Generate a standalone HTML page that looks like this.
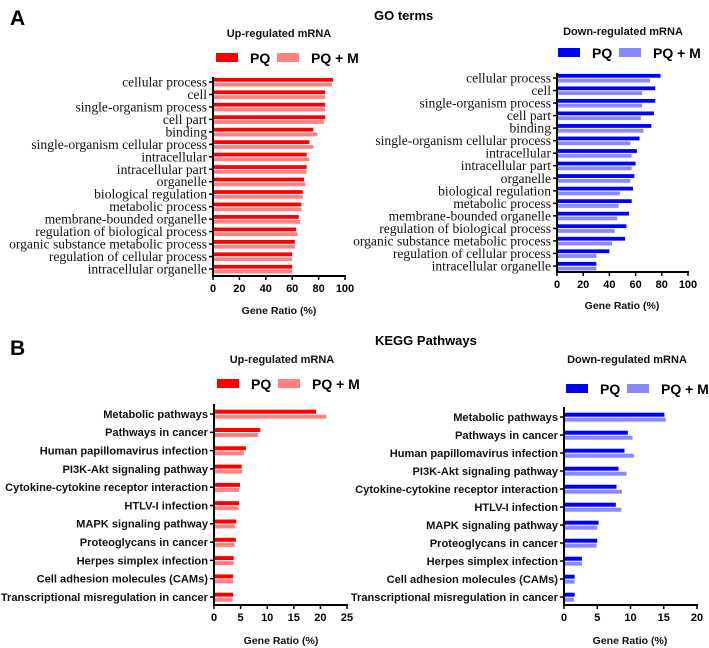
<!DOCTYPE html>
<html><head><meta charset="utf-8"><style>
html,body{margin:0;padding:0;background:#fff;}
svg{display:block;}
.b{font-family:"Liberation Sans",Arial,sans-serif;font-weight:bold;}
.s{font-family:"Liberation Serif","Times New Roman",serif;}
</style></head><body>
<svg id="fig" width="709" height="648" viewBox="0 0 709 648" xmlns="http://www.w3.org/2000/svg">
<text class="b" x="10" y="25" font-size="21">A</text>
<text class="b" x="374" y="20" font-size="13">GO terms</text>
<text class="b" x="10" y="355" font-size="21">B</text>
<text class="b" x="375" y="345" font-size="13">KEGG Pathways</text>
</svg>
<script>
const goCats=["cellular process","cell","single-organism process","cell part","binding","single-organism cellular process","intracellular","intracellular part","organelle","biological regulation","metabolic process","membrane-bounded organelle","regulation of biological process","organic substance metabolic process","regulation of cellular process","intracellular organelle"];
const goUpPQ=[91,85,85,85,76,73,71,71,69,68,67,65,63,62,60,60];
const goUpPQM=[90,85,85,84,79,76,73,71,70,68,67,66,64,62,60,60];
const goDownPQ=[79,75,75,74,72,63,61,60,59,58,57,55,53,52,40,30];
const goDownPQM=[71,65,65,64,66,56,57,57,56,48,47,46,44,42,30,30];
const goTicks=[0,20,40,60,80,100];
const keggCats=["Metabolic pathways","Pathways in cancer","Human papillomavirus infection","PI3K-Akt signaling pathway","Cytokine-cytokine receptor interaction","HTLV-I infection","MAPK signaling pathway","Proteoglycans in cancer","Herpes simplex infection","Cell adhesion molecules (CAMs)","Transcriptional misregulation in cancer"];
const keggUpPQ=[19.2,8.7,6.0,5.2,4.9,4.7,4.2,4.1,3.7,3.6,3.6];
const keggUpPQM=[21.1,8.3,5.6,5.3,4.7,4.6,3.9,3.9,3.7,3.6,3.5];
const keggDownPQ=[15.1,9.6,9.1,8.2,7.9,7.8,5.2,5.0,2.7,1.6,1.6];
const keggDownPQM=[15.3,10.3,10.5,9.4,8.7,8.6,5.0,4.9,2.7,1.6,1.5];
const keggUpTicks=[0,5,10,15,20,25];
const keggDownTicks=[0,5,10,15,20];

const NS="http://www.w3.org/2000/svg";
const svg=document.getElementById('fig');
function mk(tag,attrs,parent){const e=document.createElementNS(NS,tag);for(const k in attrs)e.setAttribute(k,attrs[k]);(parent||svg).appendChild(e);return e;}

function panel(o){
  const g=mk('g',{});
  
  
  const tmax=o.ticks[o.ticks.length-1];
  const xs=v=>o.x0+(v/tmax)*(o.x1-o.x0);
  const n=o.cats.length;
  const ys=i=>o.c0+i*(o.cN-o.c0)/(n-1);
  const t=mk('text',{x:o.tx,y:o.ty,'text-anchor':'middle','font-size':11,class:'b',fill:'#111'},g);
  t.textContent=o.title;
  
  
  const lg=mk('g',{},g);
  
  
  const r1=mk('rect',{x:o.lx,y:o.ly-5,width:22,height:9,fill:o.c1},lg);
  
  
  const l1=mk('text',{x:o.lx+34,y:o.ly+5,'font-size':14,class:'b'},lg);l1.textContent='PQ';
  
  
  const r2=mk('rect',{x:o.lx+61,y:o.ly-5,width:22,height:9,fill:o.c2},lg);
  
  
  const l2=mk('text',{x:o.lx+95,y:o.ly+5,'font-size':14,class:'b'},lg);l2.textContent='PQ + M';
  
  
  o.cats.forEach((c,i)=>{
    const y=ys(i);
    const b1=mk('rect',{x:o.x0,y:y-o.bh-0.3,width:xs(o.v1[i])-o.x0,height:o.bh,fill:o.c1},g);
    
    
    const b2=mk('rect',{x:o.x0,y:y+0.7,width:xs(o.v2[i])-o.x0,height:o.bh,fill:o.c2},g);
    
    
    mk('line',{x1:o.x0-4,x2:o.x0,y1:y,y2:y,stroke:'#000','stroke-width':1.5},g);
    const lt=mk('text',{x:o.x0-6,y:y+(o.serif?4.5:3.9),'text-anchor':'end','font-size':o.serif?13.6:11.1,class:o.serif?'s':'b',fill:'#111'},g);
    lt.textContent=c;
    
    
  });
  const ya=mk('line',{x1:o.x0,x2:o.x0,y1:o.yt,y2:o.yb,stroke:'#000','stroke-width':2},g);
  
  
  const xa=mk('line',{x1:o.x0-1,x2:o.x1+1,y1:o.yb,y2:o.yb,stroke:'#000','stroke-width':2},g);
  
  
  o.ticks.forEach(v=>{
    mk('line',{x1:xs(v),x2:xs(v),y1:o.yb,y2:o.yb+4,stroke:'#000','stroke-width':1.5},g);
    const tt=mk('text',{x:xs(v),y:o.yb+16,'text-anchor':'middle','font-size':11,class:'b'},g);
    tt.textContent=v;
    
    
  });
  const xt=mk('text',{x:o.gx,y:o.gy,'text-anchor':'middle','font-size':10.5,class:'b',fill:'#111'},g);
  xt.textContent='Gene Ratio (%)';
  
  
}
const red='#ff0000',pink='#ff8080',blue='#0000ff',lblue='#8888ff';
panel({name:'go-up-chart',cats:goCats,v1:goUpPQ,v2:goUpPQM,ticks:goTicks,x0:213,x1:345,yt:77,yb:276,c0:82,cN:269,bh:3.8,serif:true,c1:red,c2:pink,title:'Up-regulated mRNA',tx:279,ty:37,lx:216,ly:58,gx:279,gy:314});
panel({name:'go-down-chart',cats:goCats,v1:goDownPQ,v2:goDownPQM,ticks:goTicks,x0:557,x1:688,yt:73,yb:272,c0:78,cN:266,bh:3.8,serif:true,c1:blue,c2:lblue,title:'Down-regulated mRNA',tx:623,ty:35,lx:558,ly:53,gx:622,gy:309});
panel({name:'kegg-up-chart',cats:keggCats,v1:keggUpPQ,v2:keggUpPQM,ticks:keggUpTicks,x0:214,x1:347,yt:404,yb:605,c0:414,cN:597,bh:4,serif:false,c1:red,c2:pink,title:'Up-regulated mRNA',tx:282,ty:363,lx:217,ly:384,gx:281,gy:644});
panel({name:'kegg-down-chart',cats:keggCats,v1:keggDownPQ,v2:keggDownPQM,ticks:keggDownTicks,x0:564,x1:697,yt:407,yb:605,c0:417,cN:597,bh:4,serif:false,c1:blue,c2:lblue,title:'Down-regulated mRNA',tx:627,ty:363,lx:566,ly:389,gx:630,gy:644});
</script>
</body></html>
